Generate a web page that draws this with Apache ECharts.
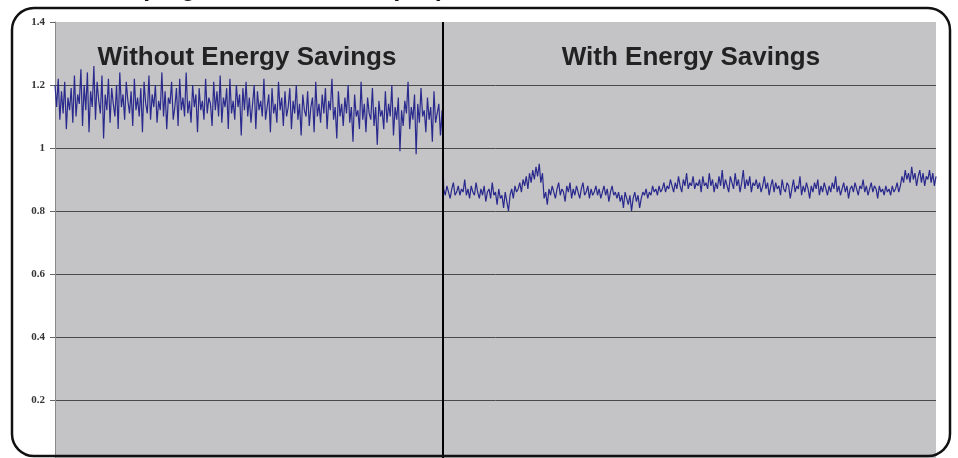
<!DOCTYPE html>
<html>
<head>
<meta charset="utf-8">
<script src="https://cdn.jsdelivr.net/npm/echarts@6/dist/echarts.min.js"></script>
<style>
  html, body { margin: 0; padding: 0; background: #fff; }
  #chart { width: 958px; height: 458px; }
</style>
</head>
<body>
<div id="chart"></div>
<script>
// 节能前后的功率读数 (kW)
const withoutSavings = [
  1.20, 1.13, 1.22, 1.09, 1.18, 1.11, 1.21, 1.06, 1.16, 1.12, 1.19, 1.08,
  1.23, 1.10, 1.17, 1.14, 1.25, 1.07, 1.20, 1.12, 1.24, 1.05, 1.18, 1.13,
  1.26, 1.09, 1.21, 1.15, 1.11, 1.23, 1.03, 1.17, 1.12, 1.22, 1.08, 1.19,
  1.14, 1.10, 1.20, 1.06, 1.24, 1.13, 1.17, 1.09, 1.21, 1.15, 1.11, 1.18,
  1.07, 1.22, 1.12, 1.16, 1.10, 1.19, 1.05, 1.21, 1.14, 1.11, 1.23, 1.09,
  1.17, 1.13, 1.20, 1.08, 1.15, 1.12, 1.24, 1.10, 1.18, 1.06, 1.16, 1.14,
  1.21, 1.09, 1.13, 1.19, 1.07, 1.22, 1.12, 1.16, 1.10, 1.24, 1.11, 1.15,
  1.08, 1.20, 1.13, 1.17, 1.05, 1.19, 1.12, 1.15, 1.09, 1.22, 1.11, 1.16,
  1.14, 1.07, 1.21, 1.12, 1.18, 1.10, 1.23, 1.08, 1.16, 1.13, 1.19, 1.06,
  1.22, 1.11, 1.15, 1.09, 1.20, 1.13, 1.17, 1.04, 1.19, 1.12, 1.21, 1.10,
  1.16, 1.08, 1.14, 1.20, 1.06, 1.18, 1.12, 1.15, 1.10, 1.22, 1.09, 1.13,
  1.17, 1.05, 1.19, 1.11, 1.14, 1.08, 1.21, 1.12, 1.16, 1.07, 1.18, 1.10,
  1.13, 1.19, 1.06, 1.15, 1.11, 1.20, 1.09, 1.14, 1.04, 1.17, 1.12, 1.10,
  1.18, 1.07, 1.13, 1.16, 1.05, 1.21, 1.10, 1.14, 1.08, 1.17, 1.11, 1.19,
  1.06, 1.15, 1.12, 1.22, 1.09, 1.13, 1.03, 1.18, 1.10, 1.14, 1.07, 1.16,
  1.11, 1.20, 1.08, 1.13, 1.02, 1.17, 1.10, 1.12, 1.06, 1.21, 1.09, 1.14,
  1.05, 1.16, 1.11, 1.09, 1.19, 1.07, 1.13, 1.01, 1.15, 1.10, 1.12, 1.06,
  1.18, 1.08, 1.14, 1.10, 1.20, 1.04, 1.13, 1.09, 1.16, 0.99, 1.12, 1.07,
  1.15, 1.11, 1.21, 1.06, 1.13, 1.09, 1.17, 0.98, 1.14, 1.08, 1.19, 1.10,
  1.12, 1.05, 1.16, 1.09, 1.13, 1.02, 1.18, 1.08, 1.11, 1.14, 1.04, 1.12
]
const withSavings = [
  0.87, 0.85, 0.88, 0.86, 0.84, 0.87, 0.89, 0.85, 0.86, 0.88, 0.85, 0.87,
  0.86, 0.90, 0.85, 0.87, 0.84, 0.88, 0.86, 0.85, 0.89, 0.86, 0.84, 0.87,
  0.85, 0.88, 0.83, 0.86, 0.87, 0.84, 0.89, 0.85, 0.86, 0.82, 0.87, 0.84,
  0.85, 0.81, 0.86, 0.83, 0.80, 0.85, 0.87, 0.84, 0.88, 0.86, 0.87, 0.89,
  0.86, 0.90, 0.88, 0.91, 0.87, 0.92, 0.89, 0.93, 0.90, 0.94, 0.91, 0.95,
  0.89, 0.92, 0.84, 0.86, 0.82, 0.87, 0.85, 0.88, 0.86, 0.84, 0.87, 0.89,
  0.85, 0.87, 0.86, 0.83, 0.88, 0.86, 0.89, 0.84, 0.87, 0.85, 0.88, 0.86,
  0.84, 0.87, 0.89, 0.85, 0.86, 0.88, 0.84, 0.87, 0.85, 0.86, 0.88, 0.85,
  0.87, 0.84, 0.86, 0.88, 0.85, 0.87, 0.83, 0.86, 0.88, 0.85, 0.86, 0.84,
  0.86, 0.83, 0.85, 0.81, 0.86, 0.84, 0.82, 0.85, 0.80, 0.84, 0.86, 0.83,
  0.85, 0.81, 0.84, 0.86, 0.85, 0.87, 0.84, 0.86, 0.85, 0.88, 0.86, 0.87,
  0.85, 0.88, 0.86, 0.87, 0.89, 0.86, 0.88, 0.87, 0.90, 0.88, 0.86, 0.89,
  0.87, 0.91, 0.88, 0.86, 0.90, 0.88, 0.92, 0.87, 0.89, 0.88, 0.91, 0.87,
  0.89, 0.88, 0.90, 0.86, 0.91, 0.88, 0.89, 0.87, 0.92, 0.88, 0.90, 0.86,
  0.89, 0.87, 0.91, 0.88, 0.93, 0.87, 0.90, 0.88, 0.86, 0.91, 0.89, 0.87,
  0.92, 0.88, 0.90, 0.86, 0.89, 0.93, 0.87, 0.90, 0.88, 0.91, 0.86, 0.89,
  0.88, 0.90, 0.87, 0.89, 0.86, 0.88, 0.91, 0.87, 0.89, 0.85, 0.88, 0.90,
  0.86, 0.89, 0.87, 0.88, 0.85, 0.90, 0.87, 0.86, 0.89, 0.88, 0.84, 0.87,
  0.90, 0.86, 0.88, 0.87, 0.91, 0.85, 0.88, 0.86, 0.89, 0.87, 0.84, 0.88,
  0.86, 0.89, 0.87, 0.90, 0.85, 0.88, 0.86, 0.89, 0.87, 0.85, 0.88, 0.86,
  0.89, 0.87, 0.91, 0.86, 0.88, 0.85, 0.87, 0.89, 0.86, 0.88, 0.84, 0.87,
  0.88, 0.86, 0.89, 0.87, 0.85, 0.88, 0.87, 0.90, 0.86, 0.88, 0.85, 0.87,
  0.89, 0.86, 0.88, 0.87, 0.84, 0.88, 0.86, 0.87, 0.85, 0.88, 0.86, 0.87,
  0.85, 0.88, 0.86, 0.87, 0.89, 0.86, 0.88, 0.91, 0.89, 0.93, 0.90, 0.92,
  0.89, 0.94, 0.90, 0.92, 0.88, 0.91, 0.93, 0.89, 0.92, 0.88, 0.91, 0.90,
  0.93, 0.89, 0.92, 0.88, 0.91
]
const titleText = 'Pumping Power Demand (kW)'
const leftLabel = 'Without Energy Savings'
const rightLabel = 'With Energy Savings'

const splitAt = withoutSavings.length
const total = splitAt + withSavings.length
const seriesData = withoutSavings.map((v, i) => [i, v])
  .concat(withSavings.map((v, i) => [splitAt + i, v]))

const chart = echarts.init(document.getElementById('chart'))
chart.setOption({
  animation: false,
  backgroundColor: '#fff',
  grid: {
    left: 55, top: 22, width: 881, height: 441, outerBoundsMode: 'none', containLabel: false,
    show: true, backgroundColor: '#c4c3c5', borderWidth: 0
  },
  xAxis: { type: 'value', min: 0, max: total - 1, show: false },
  yAxis: {
    type: 'value', min: 0, max: 1.4, interval: 0.2,
    axisLine: { show: true, lineStyle: { color: '#8a8a8a', width: 1 } },
    axisTick: { show: true, length: 5, lineStyle: { color: '#666' } },
    axisLabel: {
      margin: 10, color: '#333', fontFamily: 'Liberation Serif', fontWeight: 'bold', fontSize: 11,
      formatter: v => String(Math.round(v * 10) / 10)
    },
    splitLine: { show: true, showMaxLine: false, lineStyle: { color: '#4a4a4a', width: 1 } }
  },
  series: [{
    type: 'line',
    data: seriesData,
    showSymbol: false,
    symbol: 'none',
    lineStyle: { color: '#2a2a8e', width: 1.2 },
    markLine: {
      silent: true, symbol: 'none', label: { show: false },
      lineStyle: { color: '#000', width: 2, type: 'solid' },
      data: [{ xAxis: splitAt - 0.5 }]
    }
  }],
  graphic: [
    {
      type: 'text', x: 89, y: -11,
      style: { text: titleText, fill: '#111', font: 'bold 25px "Liberation Sans", Arial', verticalAlign: 'middle' }
    },
    {
      type: 'text', x: 247, y: 58,
      style: { text: leftLabel, fill: '#222', font: 'bold 26px "Liberation Sans", Arial', align: 'center', verticalAlign: 'middle' }
    },
    {
      type: 'text', x: 691, y: 58,
      style: { text: rightLabel, fill: '#222', font: 'bold 26px "Liberation Sans", Arial', align: 'center', verticalAlign: 'middle' }
    },
    {
      type: 'rect', z: 100, silent: true,
      shape: { x: 12, y: 8, width: 938, height: 448, r: 22 },
      style: { fill: 'none', stroke: '#111', lineWidth: 2.5 }
    }
  ]
})
</script>
</body>
</html>
